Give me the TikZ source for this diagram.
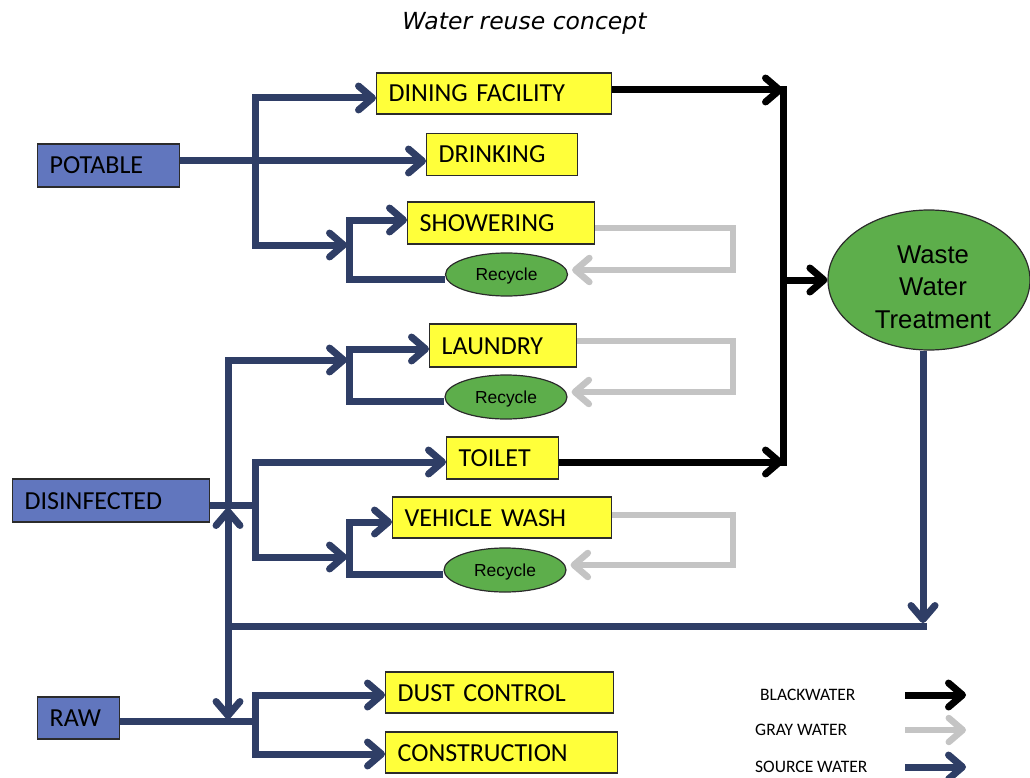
\documentclass[tikz,border=0pt]{standalone}
\usepackage{fontspec}
\setmainfont{Carlito}
\newfontfamily\libsans{Liberation Sans}
\newfontfamily\dejavu{DejaVu Sans}
\usetikzlibrary{arrows.meta,shapes.geometric}
\definecolor{navy}{HTML}{2F3E66}
\definecolor{blu}{HTML}{6176BE}
\definecolor{yel}{HTML}{FFFF3A}
\definecolor{grn}{HTML}{5DAE4B}
\definecolor{gry}{HTML}{C4C4C4}
\definecolor{edge}{HTML}{2B2B2B}
\pgfdeclarelayer{bg}
\pgfsetlayers{bg,main}
\begin{document}
\begin{tikzpicture}[x=1pt,y=-1pt,
  box/.style={draw=edge, line width=1.4pt, anchor=west, inner xsep=12pt, inner ysep=0pt,
    align=left, text height=17pt, text depth=0pt, font=\fontsize{26}{30}\selectfont},
  ybox/.style={box, fill=yel},
  bbox/.style={box, fill=blu},
  rec/.style={ellipse, draw=edge, line width=1.2pt, fill=grn, inner sep=0pt,
    minimum width=122pt, minimum height=44pt, font=\libsans\fontsize{17.4}{20}\selectfont,
    text height=12.5pt, text depth=0pt},
  src/.style={draw=navy, line width=7pt},
  gryl/.style={draw=gry, line width=6.5pt, shorten >=4pt},
  blk/.style={draw=black, line width=7pt},
  arw/.style={-{Straight Barb[length=14pt,width=24pt,round]}},
  legend/.style={anchor=west, inner sep=0pt, text height=11.3pt, text depth=0pt,
    font=\fontsize{17.5}{20}\selectfont},
]
\useasboundingbox (0,0) rectangle (1030,778);

\node[font=\dejavu\itshape\fontsize{23.5}{28}\selectfont, inner sep=0pt, text height=17pt, text depth=0pt]
  (title) at (524.5,21.5) {Water reuse concept};

% source boxes
\node[bbox, text width=118pt, minimum height=43pt] (POTABLE) at (37,165.5) {POTABLE};
\node[bbox, text width=173pt, minimum height=43pt] (DISINF) at (12,500.5) {DISINFECTED};
\node[bbox, text width=58pt, minimum height=42pt] (RAW) at (37,718) {RAW};

% use boxes
\node[ybox, text width=211pt, minimum height=41pt] (DINING) at (376,93.5) {DINING FACILITY};
\node[ybox, text width=127pt, minimum height=42pt] (DRINK) at (426,154.5) {DRINKING};
\node[ybox, text width=163pt, minimum height=42pt] (SHOWER) at (407,223) {SHOWERING};
\node[ybox, text width=123pt, minimum height=43pt] (LAUNDRY) at (429,345.5) {LAUNDRY};
\node[ybox, text width=88pt, minimum height=42pt] (TOILET) at (446,458) {TOILET};
\node[ybox, text width=195pt, minimum height=41pt] (VEHICLE) at (392,517.5) {VEHICLE WASH};
\node[ybox, text width=204pt, minimum height=41pt] (DUST) at (385,692.5) {DUST CONTROL};
\node[ybox, text width=208pt, minimum height=41pt] (CONSTR) at (385,752.5) {CONSTRUCTION};

% recycle
\node[rec, minimum height=43pt] (R1) at (506.5,274.5) {Recycle};
\node[rec] (R2) at (506,397) {Recycle};
\node[rec] (R3) at (505,570) {Recycle};

% waste water treatment
\node[ellipse, draw=edge, line width=1.2pt, fill=grn, inner sep=0pt,
  minimum width=202pt, minimum height=140pt] (WWT) at (929,280) {};
\node[align=center, inner sep=0pt, font=\libsans\fontsize{25.7}{32.5}\selectfont]
  (WWTtext) at (933,287) {Waste\\Water\\Treatment};

% legend
\node[legend] (LBW) at (760,695) {BLACKWATER};
\node[legend] (LGW) at (755,730) {GRAY WATER};
\node[legend] (LSW) at (755,767) {SOURCE WATER};
\coordinate (lb1) at (905,695); \coordinate (lb2) at (966,695);
\coordinate (lg1) at (905,730); \coordinate (lg2) at (966,730);
\coordinate (ls1) at (905,767); \coordinate (ls2) at (966,767);

\begin{pgfonlayer}{bg}
% potable
\draw[src,arw] (POTABLE.east |- 0,161) -- (DRINK.west |- 0,161);
\draw[src,arw] (255,161) -- (255,98) -- (DINING.west |- 0,98);
\draw[src,arw] (255,161) -- (255,245) -- (347,245);
\draw[src,arw] (R1.west |- 0,279) -- (349,279) -- (349,220) -- (SHOWER.west |- 0,220);
% disinfected
\draw[src] (DISINF.east |- 0,505) -- (255,505);
\draw[src,arw] (228,505) -- (228,360) -- (347,360);
\draw[src,arw] (R2.west |- 0,401) -- (349,401) -- (349,349) -- (LAUNDRY.west |- 0,349);
\draw[src,arw] (255,505) -- (255,462) -- (TOILET.west |- 0,462);
\draw[src,arw] (255,505) -- (255,557) -- (347,557);
\draw[src,arw] (R3.west |- 0,574) -- (349,574) -- (349,522) -- (VEHICLE.west |- 0,522);
% return from treatment
\draw[src,arw] (WWT.south -| 923,0) -- (923,623);
\draw[src] (926.5,626) -- (224.5,626);
\draw[src,arw] (228,626) -- (228,508);
\draw[src,arw] (228,626) -- (228,719);
% raw
\draw[src] (RAW.east |- 0,721) -- (255,721);
\draw[src,arw] (255,721) -- (255,695) -- (DUST.west |- 0,695);
\draw[src,arw] (255,721) -- (255,754) -- (CONSTR.west |- 0,754);
% gray water
\draw[gryl,arw] (SHOWER.east |- 0,228) -- (733,228) -- (733,270) -- (R1.east |- 0,270);
\draw[gryl,arw] (LAUNDRY.east |- 0,341) -- (733,341) -- (733,392) -- (R2.east |- 0,392);
\draw[gryl,arw] (VEHICLE.east |- 0,515) -- (733,515) -- (733,565) -- (R3.east |- 0,565);
% black water
\draw[blk,arw] (DINING.east |- 0,90) -- (783,90);
\draw[blk] (783,86.5) -- (783,465.5);
\draw[blk,arw] (TOILET.east |- 0,462) -- (783,462);
\draw[blk,arw] (783,280) -- (WWT.west);
% legend arrows
\draw[blk,arw] (lb1) -- (lb2);
\draw[draw=gry, line width=6.5pt, arw] (lg1) -- (lg2);
\draw[src,arw] (ls1) -- (ls2);
\end{pgfonlayer}
\end{tikzpicture}
\end{document}
